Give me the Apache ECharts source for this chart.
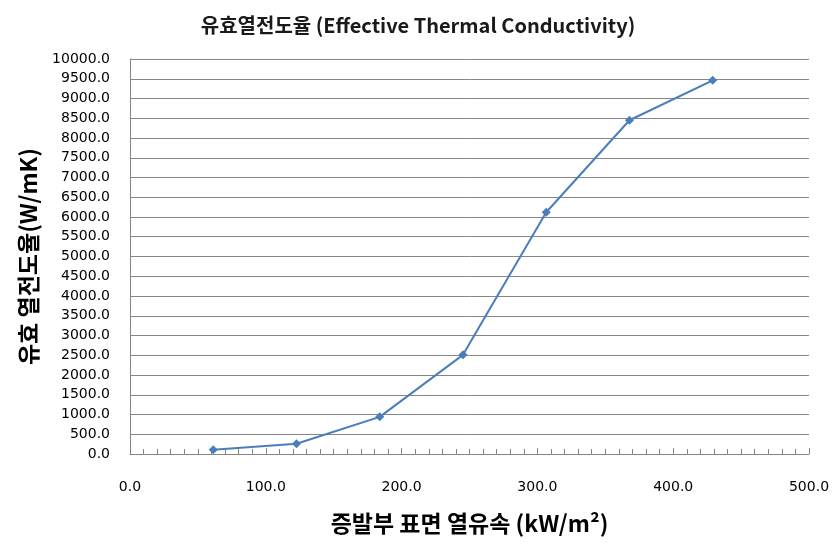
<!DOCTYPE html>
<html><head><meta charset="utf-8">
<script src="https://cdn.jsdelivr.net/npm/echarts@6/dist/echarts.min.js"></script>
<style>html,body{margin:0;padding:0;background:#fff}#c{width:836px;height:546px}</style>
</head><body><div id="c"></div>
<script>
const heatFlux = [61.3, 122.6, 183.9, 245.2, 306.5, 367.8, 429.1];
const conductivity = [110, 260, 940, 2510, 6120, 8450, 9460];
const titleText = '유효열전도율 (Effective Thermal Conductivity)';
const xName = '증발부 표면 열유속 (kW/m²)';
const yName = '유효 열전도율(W/mK)';

const chart = echarts.init(document.getElementById('c'), null, {renderer: 'canvas'});
chart.setOption({
  animation: false,
  backgroundColor: '#fff',
  title: {
    text: titleText, left: 'center', top: 10,
    textStyle: {fontFamily: 'Noto Sans CJK KR', fontWeight: 'bold', fontSize: 20, color: '#1a1a1a'}
  },
  grid: {left: 130, right: 27, top: 59, bottom: 92, containLabel: false},
  xAxis: {
    type: 'value', min: 0, max: 500, interval: 100,
    name: xName, nameLocation: 'middle', nameGap: 58,
    nameTextStyle: {fontFamily: 'Noto Sans CJK KR', fontWeight: 'bold', fontSize: 23, color: '#000'},
    axisLine: {show: true, lineStyle: {color: '#868686', width: 1}},
    axisTick: {show: true, inside: true, length: 6, lineStyle: {color: '#868686'}},
    minorTick: {show: true, splitNumber: 10, length: 5, lineStyle: {color: '#868686'}},
    splitLine: {show: false},
    axisLabel: {margin: 26, fontFamily: 'DejaVu Sans', fontSize: 14, color: '#000',
      formatter: v => v.toFixed(1)}
  },
  yAxis: {
    type: 'value', min: 0, max: 10000, interval: 500,
    name: yName, nameLocation: 'middle', nameGap: 90, nameRotate: 90,
    nameTextStyle: {fontFamily: 'Noto Sans CJK KR', fontWeight: 'bold', fontSize: 23, color: '#000'},
    axisLine: {show: true, lineStyle: {color: '#868686', width: 1}},
    axisTick: {show: false},
    splitLine: {show: true, lineStyle: {color: '#868686', width: 1}},
    axisLabel: {margin: 20, fontFamily: 'DejaVu Sans', fontSize: 14, color: '#000',
      formatter: v => v.toFixed(1)}
  },
  series: [{
    type: 'line',
    data: heatFlux.map((x, i) => [x, conductivity[i]]),
    symbol: 'diamond', symbolSize: 9,
    lineStyle: {color: '#4a7ebb', width: 2},
    itemStyle: {color: '#4a7ebb'}
  }]
});
</script></body></html>
